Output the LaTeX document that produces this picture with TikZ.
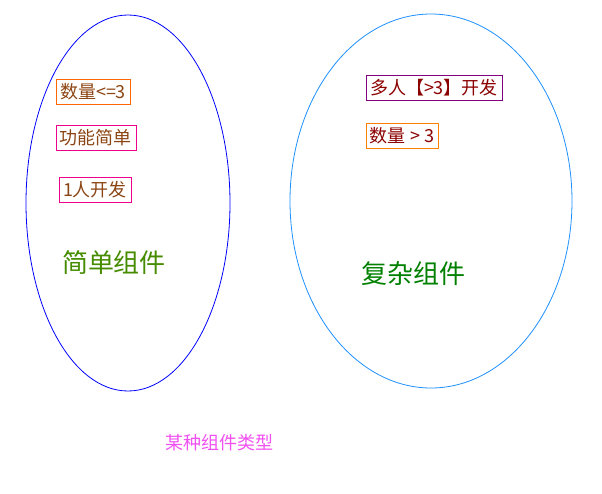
\documentclass[tikz,border=0pt]{standalone}
\usepackage{fontspec}
\newfontfamily\cjk{Noto Sans CJK SC}
\usetikzlibrary{shapes.geometric}
\definecolor{txtbrown}{RGB}{139,69,19}
\definecolor{txtred}{RGB}{139,0,0}
\definecolor{grn}{RGB}{70,140,0}
\definecolor{grn2}{RGB}{0,128,0}
\definecolor{skyb}{RGB}{30,144,255}
\definecolor{pinkv}{RGB}{240,80,240}
\tikzset{
  tag/.style = {rectangle, draw, inner sep=2pt, font=\cjk\fontsize{9}{10}\selectfont},
  group/.style = {ellipse, font=\cjk\fontsize{13}{15}\selectfont}
}
\begin{document}
\begin{tikzpicture}[x=0.5pt,y=-0.5pt]
\useasboundingbox (0,0) rectangle (602,494);
\draw[blue] (128,203) ellipse [x radius=102, y radius=188];
\draw[skyb] (431,201) ellipse [x radius=141, y radius=187];

\node(num1)[tag, draw=orange!80!red, text=txtbrown] at (93,92) {数量<=3};
\node(func)[tag, draw=magenta, text=txtbrown] at (96,138) {功能简单};
\node(dev1)[tag, draw=magenta, text=txtbrown] at (95,190) {1人开发};
\node(simple)[group, text=grn] at (114,263) {简单组件};

\node(devn)[tag, draw=violet, text=txtred] at (434,88) {多人【>3】开发};
\node(num2)[tag, draw=orange, text=txtred] at (402,136) {数量 > 3};
\node(complex)[group, text=grn2] at (414,274) {复杂组件};

\node(kind)[font=\cjk\fontsize{9}{10}\selectfont, text=pinkv] at (220,443) {某种组件类型};
\end{tikzpicture}
\end{document}
